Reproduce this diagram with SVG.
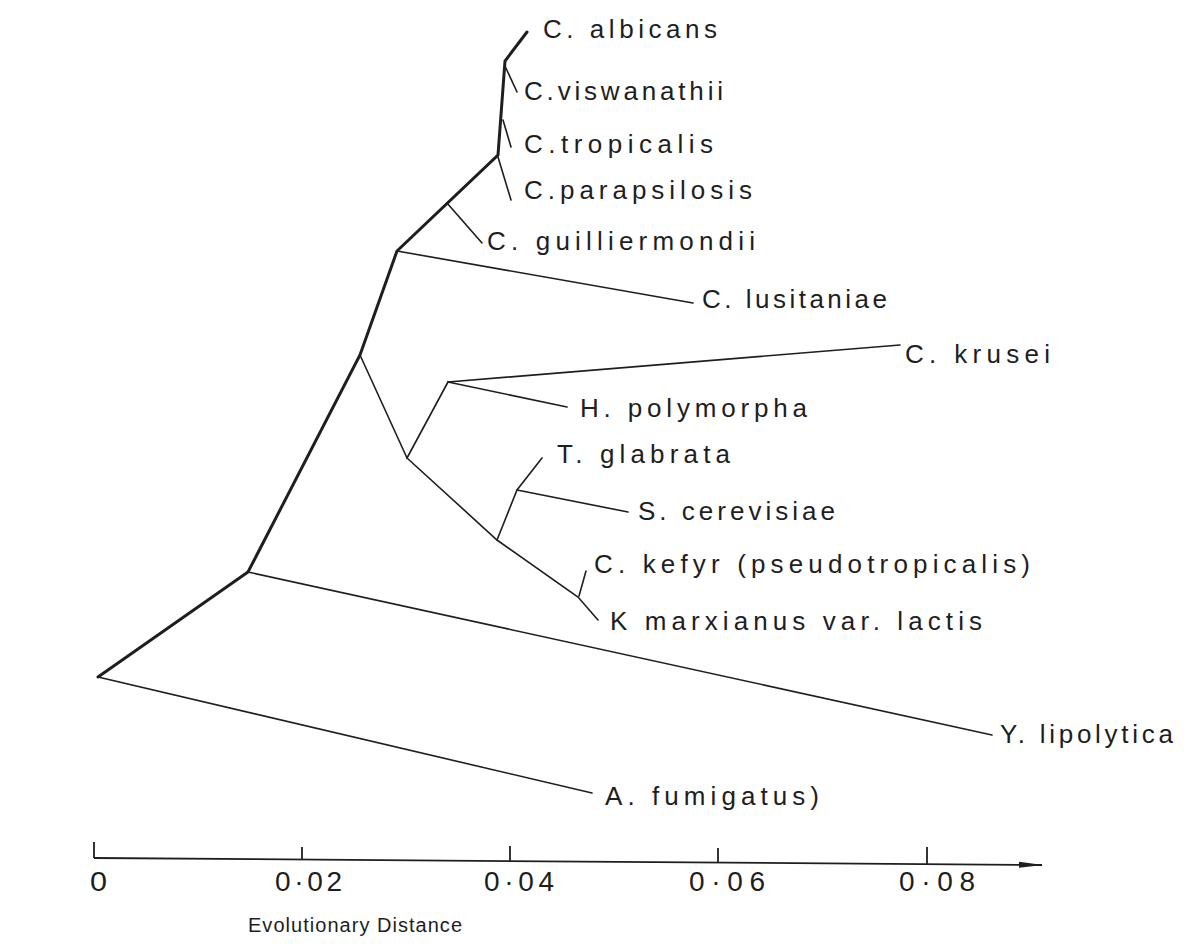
<svg xmlns="http://www.w3.org/2000/svg" width="1190" height="950" viewBox="0 0 1190 950">
<style>
.lbl{font-family:"Liberation Sans",Arial,sans-serif;font-size:26px;fill:#1e1e1e;}
.num{font-family:"Liberation Sans",Arial,sans-serif;font-size:28px;fill:#1e1e1e;}
.ttl{font-family:"Liberation Sans",Arial,sans-serif;font-size:20px;fill:#1e1e1e;}
.thick{fill:none;stroke:#1e1e1e;stroke-width:3;stroke-linejoin:miter;stroke-linecap:round;}
.thin{fill:none;stroke:#1e1e1e;stroke-width:1.6;stroke-linejoin:miter;stroke-linecap:round;}
.axis{fill:none;stroke:#1e1e1e;stroke-width:1.8;}
</style>
<defs>
<marker id="arr" markerWidth="24" markerHeight="8" refX="23" refY="4" orient="auto" markerUnits="userSpaceOnUse">
<path d="M0,1 L24,4 L0,7 Z" fill="#1e1e1e"/>
</marker>
</defs>
<rect width="1190" height="950" fill="#ffffff"/>
<g id="connectors">
<polyline class="thick" points="527,32 505,61 498,155 397,251 360,355 248,572 98,677"/>
<line class="thin" x1="505" y1="66" x2="517" y2="92"/>
<line class="thin" x1="503" y1="120" x2="511" y2="147"/>
<line class="thin" x1="498" y1="157" x2="511" y2="200"/>
<line class="thin" x1="447" y1="203" x2="482" y2="243"/>
<line class="thin" x1="397" y1="251" x2="693" y2="303"/>
<line class="thin" x1="360" y1="355" x2="407" y2="458"/>
<line class="thin" x1="407" y1="458" x2="448" y2="382"/>
<line class="thin" x1="448" y1="382" x2="900" y2="345"/>
<line class="thin" x1="448" y1="382" x2="567" y2="407"/>
<polyline class="thin" points="407,458 497,540 578,597 598,620"/>
<line class="thin" x1="579" y1="596" x2="586" y2="571"/>
<polyline class="thin" points="497,540 517,490 542,458"/>
<line class="thin" x1="517" y1="490" x2="628" y2="512"/>
<line class="thin" x1="248" y1="572" x2="992" y2="735"/>
<line class="thin" x1="98" y1="677" x2="592" y2="793"/>
</g>
<g id="axis">
<line class="axis" x1="94" y1="858" x2="1042" y2="865" marker-end="url(#arr)"/>
<line class="axis" x1="94" y1="842" x2="94" y2="858"/>
<line class="axis" x1="302" y1="847" x2="302" y2="859"/>
<line class="axis" x1="510" y1="846" x2="510" y2="861"/>
<line class="axis" x1="718" y1="848" x2="718" y2="862"/>
<line class="axis" x1="927" y1="847" x2="927" y2="864"/>
<text class="num" x="90" y="891" textLength="17" lengthAdjust="spacingAndGlyphs">0</text>
<text class="num" x="275" y="891" textLength="67" lengthAdjust="spacing">0·02</text>
<text class="num" x="484" y="891" textLength="70" lengthAdjust="spacing">0·04</text>
<text class="num" x="689" y="891" textLength="76" lengthAdjust="spacing">0·06</text>
<text class="num" x="899" y="891" textLength="76" lengthAdjust="spacing">0·08</text>
<text class="ttl" x="248" y="932" textLength="214" lengthAdjust="spacing">Evolutionary Distance</text>
</g>
<g id="n-albicans"><text class="lbl" x="543" y="38" textLength="174" lengthAdjust="spacing">C. albicans</text></g>
<g id="n-viswanathii"><text class="lbl" x="524" y="100" textLength="199" lengthAdjust="spacing">C.viswanathii</text></g>
<g id="n-tropicalis"><text class="lbl" x="524" y="153" textLength="189" lengthAdjust="spacing">C.tropicalis</text></g>
<g id="n-parapsilosis"><text class="lbl" x="524" y="199" textLength="228" lengthAdjust="spacing">C.parapsilosis</text></g>
<g id="n-guilliermondii"><text class="lbl" x="487" y="250" textLength="268" lengthAdjust="spacing">C. guilliermondii</text></g>
<g id="n-lusitaniae"><text class="lbl" x="702" y="308" textLength="185" lengthAdjust="spacing">C. lusitaniae</text></g>
<g id="n-krusei"><text class="lbl" x="905" y="363" textLength="145" lengthAdjust="spacing">C. krusei</text></g>
<g id="n-polymorpha"><text class="lbl" x="580" y="417" textLength="227" lengthAdjust="spacing">H. polymorpha</text></g>
<g id="n-glabrata"><text class="lbl" x="557" y="463" textLength="173" lengthAdjust="spacing">T. glabrata</text></g>
<g id="n-cerevisiae"><text class="lbl" x="638" y="520" textLength="197" lengthAdjust="spacing">S. cerevisiae</text></g>
<g id="n-kefyr"><text class="lbl" x="594" y="573" textLength="436" lengthAdjust="spacing">C. kefyr (pseudotropicalis)</text></g>
<g id="n-marxianus"><text class="lbl" x="610" y="630" textLength="372" lengthAdjust="spacing">K marxianus var. lactis</text></g>
<g id="n-lipolytica"><text class="lbl" x="1000" y="743" textLength="173" lengthAdjust="spacing">Y. lipolytica</text></g>
<g id="n-fumigatus"><text class="lbl" x="605" y="805" textLength="214" lengthAdjust="spacing">A. fumigatus)</text></g>
</svg>
